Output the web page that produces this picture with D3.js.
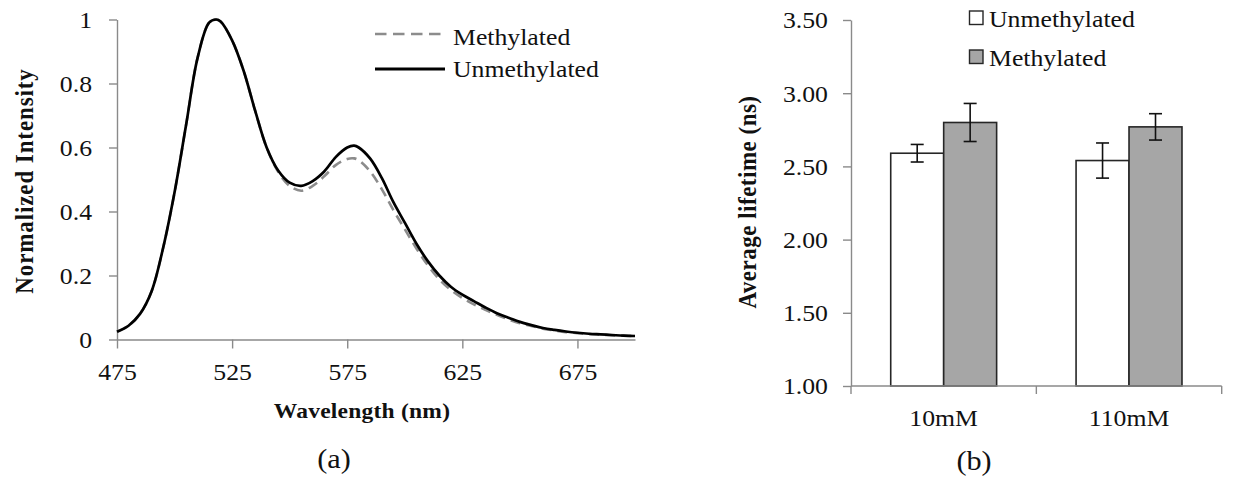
<!DOCTYPE html>
<html>
<head>
<meta charset="utf-8">
<script src="https://cdn.jsdelivr.net/npm/d3@7"></script>
<style>
  body { margin: 0; background: #fff; }
  svg { display: block; }
  text { font-family: "Liberation Serif", "Times New Roman", serif; fill: #111; }
</style>
</head>
<body>
<script>
// (a) emission spectra, normalised
const wavelengths = [475, 480, 485, 490, 495, 500, 505, 510, 515, 518, 520, 525, 530, 535, 540,
  545, 550, 555, 560, 565, 570, 575, 578, 580, 585, 590, 595, 600, 605, 610, 615, 620, 625,
  630, 635, 640, 645, 650, 655, 660, 665, 670, 675, 680, 685, 690, 695, 700];
const unmethylatedIntensity = [0.024, 0.043, 0.08, 0.15, 0.285, 0.46, 0.67, 0.88, 0.99, 1.0, 0.994, 0.935, 0.84, 0.715, 0.60,
  0.528, 0.49, 0.48, 0.495, 0.525, 0.57, 0.60, 0.606, 0.60, 0.565, 0.505, 0.43, 0.365, 0.30, 0.245, 0.20, 0.165, 0.14,
  0.12, 0.10, 0.082, 0.068, 0.055, 0.045, 0.036, 0.030, 0.025, 0.021, 0.018, 0.016, 0.014, 0.012, 0.011];
const methylatedIntensity = [0.024, 0.043, 0.08, 0.15, 0.285, 0.46, 0.67, 0.88, 0.99, 1.0, 0.994, 0.935, 0.84, 0.715, 0.60,
  0.524, 0.48, 0.465, 0.48, 0.51, 0.545, 0.564, 0.566, 0.56, 0.525, 0.47, 0.405, 0.345, 0.285, 0.232, 0.188, 0.155, 0.13,
  0.11, 0.093, 0.077, 0.063, 0.051, 0.042, 0.034, 0.028, 0.023, 0.020, 0.017, 0.015, 0.013, 0.012, 0.011];
const wavelengthTicks = [475, 525, 575, 625, 675];
const intensityTicks = [0, 0.2, 0.4, 0.6, 0.8, 1];

// (b) average lifetime per salt concentration
const concentrations = ["10mM", "110mM"];
const lifetimeSeries = ["Unmethylated", "Methylated"];
const unmethylatedLifetime = [2.59, 2.54];
const methylatedLifetime = [2.80, 2.77];
const unmethylatedError = [0.06, 0.12];
const methylatedError = [0.13, 0.09];
const lifetimeTicks = [1.00, 1.50, 2.00, 2.50, 3.00, 3.50];

const W = 1233, H = 477;
const SX = 1.12;            // horizontal glyph stretch
const AXIS = "#8a8a8a";

const svg = d3.select("body").append("svg").attr("width", W).attr("height", H);

function label(g, x, y, str, o = {}) {
  const t = g.append("text")
    .attr("transform", `translate(${x},${y}) scale(${SX},1)` + (o.rotate ? ` rotate(${o.rotate})` : ""))
    .attr("text-anchor", o.anchor || "start")
    .style("font-size", (o.size || 23) + "px")
    .style("font-weight", o.weight || "normal")
    .text(str);
  if (o.spacing) t.style("letter-spacing", o.spacing + "px");
  return t;
}

function styleAxis(g, pad, side) {
  g.selectAll("path.domain").attr("stroke", AXIS).attr("stroke-width", 1.4);
  g.selectAll(".tick line").attr("stroke", AXIS).attr("stroke-width", 1.4);
  g.selectAll(".tick text")
    .style("font-size", "23px")
    .attr("fill", "#111")
    .attr("transform", `scale(${SX},1)`);
  if (side === "left") g.selectAll(".tick text").attr("x", -pad / SX).attr("dy", "0.34em");
}

// ---------- (a) spectra ----------
const xA = d3.scaleLinear().domain([475, 700]).range([117, 635]);
const yA = d3.scaleLinear().domain([0, 1]).range([339.5, 19.5]);

const gA = svg.append("g");

const axAx = gA.append("g").attr("transform", `translate(0,${yA(0)})`)
  .call(d3.axisBottom(xA).tickValues(wavelengthTicks).tickSize(9).tickSizeOuter(0).tickPadding(14).tickFormat(d3.format("d")));
styleAxis(axAx, 0, "bottom");
axAx.selectAll(".tick text").attr("dy", "0.74em");

const ayA = gA.append("g").attr("transform", `translate(${xA(475)},0)`)
  .call(d3.axisLeft(yA).tickValues(intensityTicks).tickSize(8).tickSizeOuter(0).tickFormat(d => String(d)));
styleAxis(ayA, 25, "left");

const line = d3.line().curve(d3.curveCatmullRom.alpha(0.5));
const ptsU = wavelengths.map((w, i) => [xA(w), yA(unmethylatedIntensity[i])]);
const ptsM = wavelengths.map((w, i) => [xA(w), yA(methylatedIntensity[i])]);

gA.append("path").attr("d", line(ptsM)).attr("fill", "none")
  .attr("stroke", "#8c8c8c").attr("stroke-width", 2.6).attr("stroke-dasharray", "10,6");
gA.append("path").attr("d", line(ptsU)).attr("fill", "none")
  .attr("stroke", "#000").attr("stroke-width", 2.7);

// legend
gA.append("line").attr("x1", 375).attr("x2", 445).attr("y1", 34).attr("y2", 34)
  .attr("stroke", "#8c8c8c").attr("stroke-width", 2.6).attr("stroke-dasharray", "11.5,6.5");
gA.append("line").attr("x1", 375).attr("x2", 445).attr("y1", 69).attr("y2", 69)
  .attr("stroke", "#000").attr("stroke-width", 2.8);
label(gA, 453, 44.5, "Methylated");
label(gA, 453, 76.5, "Unmethylated");

label(gA, 362, 418, "Wavelength (nm)", { anchor: "middle", weight: "bold", size: 21, spacing: 0.2 });
label(gA, 33, 181, "Normalized Intensity", { anchor: "middle", weight: "bold", size: 23, rotate: -90, spacing: 0.9 });
label(gA, 334, 468, "(a)", { anchor: "middle", size: 27 });

// ---------- (b) lifetimes ----------
const x0 = d3.scaleBand().domain(concentrations).range([851, 1221.7]).paddingInner(0).paddingOuter(0);
const x1 = d3.scaleBand().domain(lifetimeSeries).range([0, x0.bandwidth()]).paddingInner(0).paddingOuter(0.75);
const yB = d3.scaleLinear().domain([1, 3.5]).range([386, 20]);

const gB = svg.append("g");

const ayB = gB.append("g").attr("transform", `translate(${x0.range()[0]},0)`)
  .call(d3.axisLeft(yB).tickValues(lifetimeTicks).tickSize(8).tickSizeOuter(0).tickFormat(d3.format(".2f")));
styleAxis(ayB, 23, "left");

const rows = concentrations.map((c, i) => ({
  c,
  bars: [
    { s: "Unmethylated", v: unmethylatedLifetime[i], e: unmethylatedError[i], fill: "#fff" },
    { s: "Methylated", v: methylatedLifetime[i], e: methylatedError[i], fill: "#a6a6a6" }
  ]
}));

const grp = gB.selectAll("g.grp").data(rows).join("g").attr("class", "grp")
  .attr("transform", d => `translate(${x0(d.c)},0)`);

grp.selectAll("rect").data(d => d.bars).join("rect")
  .attr("x", d => x1(d.s)).attr("width", x1.bandwidth())
  .attr("y", d => yB(d.v)).attr("height", d => yB(1) - yB(d.v))
  .attr("fill", d => d.fill).attr("stroke", "#262626").attr("stroke-width", 1.6);

const eb = grp.selectAll("g.err").data(d => d.bars).join("g").attr("class", "err")
  .attr("transform", d => `translate(${x1(d.s) + x1.bandwidth() / 2},0)`);
eb.append("line").attr("y1", d => yB(d.v + d.e)).attr("y2", d => yB(d.v - d.e))
  .attr("stroke", "#111").attr("stroke-width", 1.6);
eb.append("line").attr("x1", -6.5).attr("x2", 6.5).attr("y1", d => yB(d.v + d.e)).attr("y2", d => yB(d.v + d.e))
  .attr("stroke", "#111").attr("stroke-width", 1.6);
eb.append("line").attr("x1", -6.5).attr("x2", 6.5).attr("y1", d => yB(d.v - d.e)).attr("y2", d => yB(d.v - d.e))
  .attr("stroke", "#111").attr("stroke-width", 1.6);

// category axis with ticks on band boundaries
const xAxisB = gB.append("g");
xAxisB.append("line").attr("x1", x0.range()[0]).attr("x2", x0.range()[1])
  .attr("y1", yB(1)).attr("y2", yB(1)).attr("stroke", AXIS).attr("stroke-width", 1.4);
const bounds = concentrations.map(c => x0(c)).concat([x0.range()[1]]);
xAxisB.selectAll("line.tk").data(bounds).join("line").attr("class", "tk")
  .attr("x1", d => d).attr("x2", d => d).attr("y1", yB(1)).attr("y2", yB(1) + 8)
  .attr("stroke", AXIS).attr("stroke-width", 1.4);
concentrations.forEach(c => label(xAxisB, x0(c) + x0.bandwidth() / 2, 426, c, { anchor: "middle" }));

// legend
const legB = gB.append("g");
[{ s: "Unmethylated", fill: "#fff", y: 11 }, { s: "Methylated", fill: "#a6a6a6", y: 50 }].forEach(d => {
  legB.append("rect").attr("x", 969.5).attr("y", d.y).attr("width", 13.5).attr("height", 13.5)
    .attr("fill", d.fill).attr("stroke", "#262626").attr("stroke-width", 1.4);
  label(legB, 989, d.y + 16, d.s);
});

label(gB, 756, 202, "Average lifetime (ns)", { anchor: "middle", weight: "bold", size: 23, rotate: -90, spacing: 0.5 });
label(gB, 974, 470, "(b)", { anchor: "middle", size: 27 });
</script>
</body>
</html>
